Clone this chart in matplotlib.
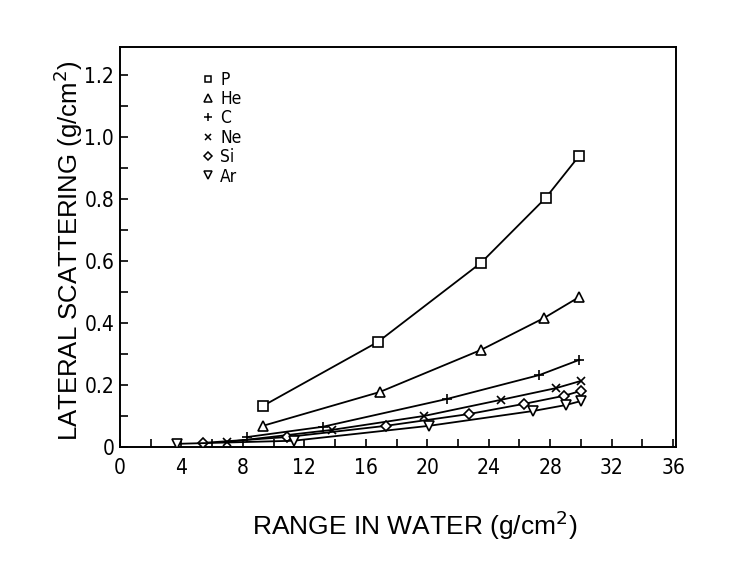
import matplotlib
matplotlib.use("Agg")
import matplotlib.pyplot as plt
from matplotlib.ticker import MultipleLocator, FixedLocator
from matplotlib.lines import Line2D

# Data
p_x = [9.3, 16.8, 23.5, 27.7, 29.9]
p_y = [0.132, 0.339, 0.594, 0.803, 0.940]
he_x = [9.3, 16.9, 23.5, 27.6, 29.9]
he_y = [0.068, 0.177, 0.313, 0.416, 0.484]
c_x = [8.3, 13.2, 21.3, 27.3, 29.9]
c_y = [0.032, 0.065, 0.155, 0.232, 0.281]
ne_x = [7.0, 13.8, 19.8, 24.8, 28.4, 30.0]
ne_y = [0.016, 0.055, 0.100, 0.152, 0.190, 0.213]
si_x = [5.4, 10.9, 17.3, 22.7, 26.3, 28.9, 30.0]
si_y = [0.013, 0.032, 0.068, 0.106, 0.139, 0.165, 0.181]
ar_x = [3.7, 11.3, 20.1, 26.9, 29.0, 30.0]
ar_y = [0.010, 0.020, 0.068, 0.116, 0.135, 0.148]

labels = ["P", "He", "C", "Ne", "Si", "Ar"]
markers = ["s", "^", "+", "x", "D", "v"]
msizes = [6.5, 7, 7, 6, 5.5, 7]

x_ticks = [0, 4, 8, 12, 16, 20, 24, 28, 32, 36]
y_ticks = [0, 0.2, 0.4, 0.6, 0.8, 1.0, 1.2]
y_ticklabels = ["0", "0.2", "0.4", "0.6", "0.8", "1.0", "1.2"]

series = [(p_x, p_y), (he_x, he_y), (c_x, c_y), (ne_x, ne_y), (si_x, si_y), (ar_x, ar_y)]

fig = plt.figure(figsize=(7.44, 5.73), dpi=100)
ax = fig.add_axes([0.161, 0.220, 0.748, 0.698])

for (xs, ys), m, ms in zip(series, markers, msizes):
    ax.plot(xs, ys, color="black", lw=1.3, marker=m, ms=ms,
            mfc="white", mec="black", mew=1.2, zorder=3)

ax.set_xlim(0, 36.2)
ax.set_ylim(0, 1.29)
ax.xaxis.set_major_locator(FixedLocator(x_ticks))
ax.xaxis.set_minor_locator(MultipleLocator(2))
ax.yaxis.set_major_locator(FixedLocator(y_ticks))
ax.yaxis.set_minor_locator(MultipleLocator(0.1))
ax.set_yticklabels(y_ticklabels)

tickfont = ["DejaVu Sans", "Liberation Sans"]
for lab in ax.get_xticklabels() + ax.get_yticklabels():
    lab.set_fontfamily(tickfont)
    lab.set_fontstretch("condensed")
    lab.set_fontsize(15)

ax.tick_params(which="both", direction="in", length=6, width=1.2)
ax.tick_params(axis="x", pad=8)
ax.tick_params(axis="y", pad=4)
for s in ax.spines.values():
    s.set_linewidth(1.4)

ax.set_xlabel("RANGE IN WATER (g/cm$^2$)", fontsize=19, family="Liberation Sans")
ax.xaxis.set_label_coords(0.53, -0.155)
ax.set_ylabel("LATERAL SCATTERING (g/cm$^2$)", fontsize=18.5, family="Liberation Sans")
ax.yaxis.set_label_coords(-0.062, 0.49)

handles = [Line2D([], [], linestyle="none", marker=m, ms=ms * 0.75, mfc="white",
                  mec="black", mew=1.1) for m, ms in zip(markers, msizes)]
leg = ax.legend(handles, labels, loc="upper left", bbox_to_anchor=(0.118, 0.98),
                frameon=False, handlelength=0.8, handletextpad=0.3,
                labelspacing=0.08, prop={"family": tickfont, "size": 12.5,
                                          "stretch": "condensed"})

fig.savefig("out.png", dpi=100)
